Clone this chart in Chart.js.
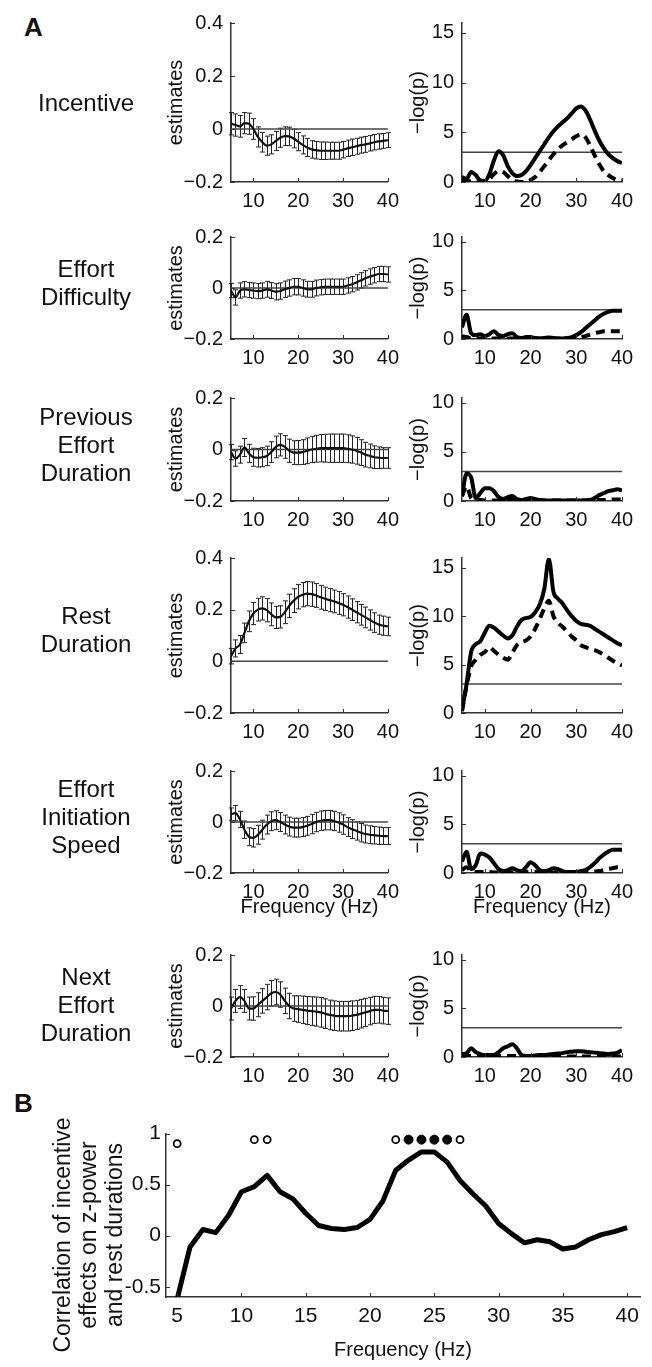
<!DOCTYPE html>
<html>
<head>
<meta charset="utf-8">
<script src="https://cdn.jsdelivr.net/npm/chart.js@4.4.1/dist/chart.umd.min.js"></script>
<style>
  html, body { margin: 0; padding: 0; background: #fff; }
  #fig { position: relative; width: 652px; height: 1367px; overflow: hidden; font-family: "Liberation Sans", Arial, sans-serif; color: #111; }
  #fig canvas { position: absolute; }
  .row-label { position: absolute; left: 0; width: 172px; text-align: center; font-size: 24px; line-height: 28px; }
  .panel-letter { position: absolute; font-weight: bold; font-size: 26px; line-height: 1; }
  #b-title { position: absolute; width: 300px; height: 78px; left: -62px; top: 1196px; transform: rotate(-90deg); text-align: center; font-size: 23px; line-height: 26px; }
</style>
</head>
<body>
<div id="fig">
  <div class="panel-letter" style="left:24px;top:14px">A</div>
  <div class="panel-letter" style="left:14px;top:1090px">B</div>
  <canvas id="est0"></canvas><canvas id="logp0"></canvas>
  <canvas id="est1"></canvas><canvas id="logp1"></canvas>
  <canvas id="est2"></canvas><canvas id="logp2"></canvas>
  <canvas id="est3"></canvas><canvas id="logp3"></canvas>
  <canvas id="est4"></canvas><canvas id="logp4"></canvas>
  <canvas id="est5"></canvas><canvas id="logp5"></canvas>
  <canvas id="corrB"></canvas>
  <div id="b-title">Correlation of incentive<br>effects on z-power<br>and rest durations</div>
</div>
<script>
// --- data (frequency in Hz) ---
const FREQ = [5,6,7,8,9,10,11,12,13,14,15,16,17,18,19,20,21,22,23,24,25,26,27,28,29,30,31,32,33,34,35,36,37,38,39,40];
const ROW_NAMES = [['Incentive'], ['Effort', 'Difficulty'], ['Previous', 'Effort', 'Duration'], ['Rest', 'Duration'], ['Effort', 'Initiation', 'Speed'], ['Next', 'Effort', 'Duration']];

const X_TICKS_A = [10, 20, 30, 40];
const EST_TICKS_TALL = [-0.2, 0, 0.2, 0.4];
const EST_TICKS_SHORT = [-0.2, 0, 0.2];
const LOGP_TICKS_TALL = [0, 5, 10, 15];
const LOGP_TICKS_SHORT = [0, 5, 10];
const P_THRESHOLD = 3;

const incentiveEst = [0.02,0.015,0.01,0.022,0.02,0.0,-0.03,-0.05,-0.063,-0.058,-0.045,-0.033,-0.027,-0.028,-0.036,-0.048,-0.06,-0.07,-0.077,-0.08,-0.082,-0.082,-0.082,-0.082,-0.082,-0.078,-0.073,-0.069,-0.065,-0.061,-0.058,-0.054,-0.05,-0.047,-0.045,-0.042];
const incentiveErr = [0.042,0.042,0.041,0.04,0.04,0.039,0.038,0.037,0.036,0.036,0.036,0.036,0.035,0.035,0.035,0.034,0.034,0.034,0.033,0.033,0.033,0.033,0.032,0.032,0.032,0.031,0.031,0.031,0.03,0.03,0.03,0.029,0.029,0.029,0.028,0.028];
const incentiveP = [0.5,0.3,1.0,0.7,0.15,0.1,0.8,2.2,3.1,2.7,1.6,0.9,0.6,0.7,1.1,1.7,2.4,3.1,3.8,4.5,5.1,5.6,6.0,6.4,6.9,7.4,7.6,7.2,6.3,5.2,4.2,3.4,2.8,2.4,2.1,1.9];
const incentivePDash = [0.2,0.1,0.05,0,0,0,0.3,0.8,1.1,1.0,0.6,0.2,0.05,0,0,0.2,0.5,1.0,1.6,2.2,2.8,3.3,3.7,4.0,4.3,4.6,4.8,4.5,3.7,2.7,1.8,1.1,0.7,0.4,0.2,0.15];

const difficultyEst = [-0.01,-0.037,-0.01,-0.005,-0.008,-0.01,-0.012,-0.01,-0.005,-0.01,-0.015,-0.012,-0.005,0.0,0.005,0.005,0.0,-0.005,-0.005,0.0,0.003,0.005,0.005,0.005,0.005,0.005,0.01,0.015,0.022,0.03,0.038,0.045,0.05,0.055,0.055,0.053];
const difficultyErr = [0.028,0.03,0.03,0.03,0.03,0.03,0.03,0.03,0.031,0.031,0.032,0.032,0.032,0.032,0.032,0.032,0.032,0.031,0.031,0.031,0.03,0.03,0.03,0.03,0.03,0.03,0.03,0.03,0.03,0.03,0.03,0.03,0.03,0.03,0.03,0.03];
const difficultyP = [1.2,2.5,0.6,0.4,0.5,0.3,0.5,0.8,0.4,0.3,0.5,0.6,0.2,0.1,0.2,0.2,0.1,0.05,0.1,0.15,0.1,0.05,0.05,0.1,0.2,0.4,0.7,1.1,1.5,1.9,2.3,2.6,2.8,2.9,2.9,2.9];
const difficultyPDash = [0.3,0.2,0.05,0.05,0.05,0.05,0.05,0.05,0.05,0.05,0.05,0.05,0.05,0.05,0.05,0.05,0.05,0.05,0.05,0.05,0.05,0.05,0.05,0.05,0.05,0.1,0.2,0.3,0.45,0.6,0.7,0.8,0.8,0.8,0.8,0.8];

const prevEffortEst = [-0.01,-0.035,-0.02,0.008,-0.015,-0.03,-0.032,-0.03,-0.025,-0.01,0.01,0.018,0.01,-0.005,-0.012,-0.012,-0.01,-0.005,0.0,0.003,0.005,0.005,0.005,0.005,0.005,0.005,0.003,0.0,-0.005,-0.012,-0.02,-0.025,-0.03,-0.032,-0.033,-0.033];
const prevEffortErr = [0.03,0.03,0.033,0.035,0.035,0.035,0.036,0.037,0.038,0.04,0.042,0.043,0.044,0.045,0.046,0.047,0.048,0.05,0.051,0.052,0.053,0.054,0.055,0.055,0.055,0.055,0.054,0.053,0.052,0.05,0.048,0.046,0.044,0.042,0.04,0.04];
const prevEffortP = [0.5,2.8,2.4,0.3,0.8,1.3,1.3,1.0,0.4,0.2,0.4,0.5,0.2,0.1,0.2,0.3,0.2,0.1,0.05,0.05,0.05,0.05,0.05,0.05,0.05,0.05,0.05,0.05,0.1,0.3,0.6,0.8,1.0,1.1,1.2,1.1];
const prevEffortPDash = [0.5,1.5,0.3,0.1,0.1,0.05,0.05,0.05,0.05,0.05,0.1,0.1,0.05,0.05,0.05,0.05,0.05,0.05,0.05,0.05,0.05,0.05,0.05,0.05,0.05,0.05,0.05,0.05,0.05,0.05,0.1,0.1,0.1,0.15,0.15,0.15];

const restEst = [0.02,0.05,0.065,0.11,0.155,0.185,0.2,0.205,0.198,0.182,0.17,0.172,0.19,0.215,0.235,0.25,0.258,0.262,0.26,0.255,0.248,0.242,0.237,0.232,0.226,0.219,0.21,0.2,0.19,0.18,0.17,0.16,0.15,0.142,0.138,0.135];
const restErr = [0.03,0.033,0.035,0.038,0.04,0.043,0.044,0.045,0.045,0.044,0.043,0.043,0.044,0.045,0.046,0.047,0.047,0.047,0.047,0.046,0.046,0.045,0.045,0.044,0.044,0.043,0.043,0.042,0.041,0.04,0.04,0.039,0.038,0.037,0.037,0.036];
const restP = [0.3,3.0,6.3,7.1,7.4,8.3,9.0,8.8,8.4,8.0,7.7,8.0,8.9,9.6,9.8,9.9,10.4,11.2,12.8,15.9,12.5,11.8,11.3,10.6,10.0,9.5,9.2,9.1,9.0,8.7,8.4,8.1,7.8,7.5,7.2,7.0];
const restPDash = [0.2,2.8,4.8,5.5,6.0,6.3,6.8,6.4,6.0,5.7,5.5,6.2,7.0,7.3,7.5,7.9,8.7,9.7,10.8,11.6,10.0,9.3,8.9,8.4,7.9,7.5,7.0,6.8,6.6,6.5,6.3,6.0,5.7,5.4,5.1,4.9];

const initSpeedEst = [0.03,0.035,0.01,-0.03,-0.058,-0.062,-0.05,-0.03,-0.01,0.003,0.007,0.0,-0.01,-0.018,-0.022,-0.022,-0.02,-0.015,-0.008,0.0,0.005,0.007,0.007,0.004,-0.002,-0.01,-0.02,-0.028,-0.035,-0.042,-0.047,-0.05,-0.052,-0.054,-0.055,-0.055];
const initSpeedErr = [0.025,0.03,0.032,0.034,0.035,0.036,0.037,0.037,0.037,0.037,0.037,0.037,0.037,0.037,0.037,0.037,0.037,0.037,0.038,0.038,0.038,0.038,0.038,0.038,0.038,0.038,0.037,0.037,0.036,0.036,0.035,0.035,0.034,0.034,0.033,0.033];
const initSpeedP = [1.2,2.2,0.4,0.8,2.0,1.9,1.6,1.0,0.4,0.2,0.3,0.5,0.3,0.2,0.6,1.1,0.8,0.3,0.2,0.3,0.5,0.4,0.2,0.1,0.1,0.1,0.2,0.3,0.6,1.0,1.5,1.9,2.2,2.4,2.4,2.4];
const initSpeedPDash = [0.3,0.6,0.2,0.1,0.1,0.1,0.1,0.05,0.05,0.05,0.05,0.05,0.05,0.05,0.1,0.15,0.1,0.05,0.05,0.05,0.05,0.05,0.05,0.05,0.05,0.05,0.05,0.05,0.1,0.15,0.2,0.3,0.4,0.5,0.6,0.6];

const nextEffortEst = [-0.01,0.02,0.035,0.02,-0.01,-0.01,0.005,0.02,0.035,0.05,0.055,0.045,0.02,0.0,-0.01,-0.012,-0.015,-0.018,-0.02,-0.022,-0.025,-0.03,-0.035,-0.038,-0.04,-0.04,-0.04,-0.038,-0.035,-0.03,-0.025,-0.02,-0.015,-0.015,-0.018,-0.02];
const nextEffortErr = [0.045,0.045,0.045,0.045,0.045,0.046,0.047,0.048,0.05,0.05,0.05,0.05,0.05,0.05,0.05,0.052,0.054,0.055,0.056,0.057,0.058,0.058,0.058,0.058,0.058,0.058,0.058,0.058,0.057,0.056,0.055,0.054,0.053,0.052,0.052,0.052];
const nextEffortP = [0.3,0.4,0.9,0.5,0.3,0.2,0.2,0.2,0.5,0.9,1.1,1.3,0.9,0.2,0.1,0.1,0.15,0.2,0.2,0.25,0.3,0.35,0.4,0.5,0.55,0.6,0.6,0.55,0.5,0.45,0.4,0.35,0.3,0.35,0.45,0.7];
const nextEffortPDash = [0.15,0.1,0.1,0.1,0.1,0.1,0.1,0.1,0.1,0.1,0.1,0.1,0.1,0.05,0.05,0.05,0.05,0.05,0.05,0.05,0.05,0.05,0.05,0.05,0.05,0.05,0.05,0.05,0.05,0.05,0.05,0.05,0.05,0.05,0.05,0.1];

// panel B
const CORR_TICKS_X = [5, 10, 15, 20, 25, 30, 35, 40];
const CORR_TICKS_Y = [-0.5, 0, 0.5, 1];
const corrB = [-0.62,-0.11,0.06,0.03,0.2,0.43,0.48,0.59,0.43,0.36,0.22,0.1,0.07,0.06,0.08,0.16,0.34,0.64,0.74,0.82,0.82,0.72,0.54,0.41,0.29,0.12,0.02,-0.07,-0.04,-0.06,-0.13,-0.11,-0.04,0.01,0.04,0.08];
const sigOpenFreq = [5, 11, 12, 22, 27];
const sigOpenLevel = [0.9, 0.94, 0.94, 0.94, 0.94];
const sigFilledFreq = [23, 24, 25, 26];
const sigFilledLevel = [0.94, 0.94, 0.94, 0.94];

const ROWS = [
  { est: incentiveEst, err: incentiveErr, p: incentiveP, pDash: incentivePDash, tall: true },
  { est: difficultyEst, err: difficultyErr, p: difficultyP, pDash: difficultyPDash, tall: false },
  { est: prevEffortEst, err: prevEffortErr, p: prevEffortP, pDash: prevEffortPDash, tall: false },
  { est: restEst, err: restErr, p: restP, pDash: restPDash, tall: true },
  { est: initSpeedEst, err: initSpeedErr, p: initSpeedP, pDash: initSpeedPDash, tall: false, freqTitle: true },
  { est: nextEffortEst, err: nextEffortErr, p: nextEffortP, pDash: nextEffortPDash, tall: false },
];

// --- layout ---
const FONT = '"Liberation Sans", Arial, sans-serif';
const LEFT_X = { l: 231, r: 392 };
const RIGHT_X = { l: 462, r: 622 };
const ROW_Y = [{ t: 19, b: 182 }, { t: 233, b: 339 }, { t: 394, b: 501 }, { t: 554, b: 713 }, { t: 767, b: 873 }, { t: 951, b: 1057 }];
const ROW_LABEL_Y = [103, 283, 445, 630, 817, 1005];

const pts = (xs, ys) => xs.map((x, i) => ({ x, y: ys[i] }));
const minusLabel = (v) => (v < 0 ? '\u2212' + Math.abs(v) : String(v));

const errorBarPlugin = {
  id: 'errorBars',
  beforeDatasetsDraw(chart) {
    const { ctx, scales: { x, y } } = chart;
    chart.data.datasets.forEach((ds) => {
      if (!ds.err) return;
      ctx.save();
      ctx.strokeStyle = '#222';
      ctx.lineWidth = 1;
      ds.data.forEach((pt, i) => {
        const px = Math.round(x.getPixelForValue(pt.x)) + 0.5;
        const yHi = y.getPixelForValue(pt.y + ds.err[i]);
        const yLo = y.getPixelForValue(pt.y - ds.err[i]);
        ctx.beginPath();
        ctx.moveTo(px, yHi); ctx.lineTo(px, yLo);
        ctx.moveTo(px - 2.5, yHi); ctx.lineTo(px + 2.5, yHi);
        ctx.moveTo(px - 2.5, yLo); ctx.lineTo(px + 2.5, yLo);
        ctx.stroke();
      });
      ctx.restore();
    });
  },
};

// small inward tick marks, as in the matlab axes
const innerTicksPlugin = {
  id: 'innerTicks',
  afterDraw(chart) {
    const { ctx, chartArea: a, scales: { x, y } } = chart;
    ctx.save();
    ctx.strokeStyle = '#333';
    ctx.lineWidth = 1;
    ctx.beginPath();
    x.ticks.forEach((t) => {
      const px = Math.round(x.getPixelForValue(t.value)) + 0.5;
      ctx.moveTo(px, a.bottom); ctx.lineTo(px, a.bottom - 4);
    });
    y.ticks.forEach((t) => {
      const py = Math.round(y.getPixelForValue(t.value)) + 0.5;
      ctx.moveTo(a.left, py); ctx.lineTo(a.left + 4, py);
    });
    ctx.stroke();
    ctx.restore();
  },
};

function renderPanel(canvasId, s) {
  const el = document.getElementById(canvasId);
  const w = s.plot.r - s.plot.l + s.axisW + s.padRight;
  const h = s.plot.b - s.plot.t + s.padTop + s.axisH;
  el.width = w; el.height = h;
  el.style.width = w + 'px'; el.style.height = h + 'px';
  el.style.left = (s.plot.l - s.axisW) + 'px';
  el.style.top = (s.plot.t - s.padTop) + 'px';
  const tickFont = { family: FONT, size: s.tickSize || 20, lineHeight: 1 };
  return new Chart(el, {
    type: 'line',
    data: { datasets: s.datasets },
    options: {
      responsive: false,
      animation: false,
      devicePixelRatio: 1,
      layout: { padding: { top: s.padTop, right: s.padRight, left: 0, bottom: 0 } },
      plugins: { legend: { display: false }, tooltip: { enabled: false } },
      scales: {
        x: {
          type: 'linear', min: s.xMin, max: s.xMax,
          afterBuildTicks: (sc) => { sc.ticks = s.xTicks.map((v) => ({ value: v })); },
          afterFit: (sc) => { sc.height = s.axisH; },
          grid: { display: false, drawTicks: false },
          border: { display: true, color: '#333', width: 1.5 },
          ticks: { font: tickFont, color: '#111', padding: 9, maxRotation: 0, autoSkip: false, callback: (v) => String(v) },
          title: s.xTitle
            ? { display: true, text: s.xTitle, font: { family: FONT, size: 20, lineHeight: 1 }, color: '#111', padding: { top: 0, bottom: s.xTitlePad || 0 } }
            : { display: false },
        },
        y: {
          type: 'linear', min: s.yMin, max: s.yMax,
          afterBuildTicks: (sc) => { sc.ticks = s.yTicks.map((v) => ({ value: v })); },
          afterFit: (sc) => { sc.width = s.axisW; },
          grid: { display: false, drawTicks: false },
          border: { display: true, color: '#333', width: 1.5 },
          ticks: { font: tickFont, color: '#111', padding: s.yTickPad || 8, autoSkip: false, callback: s.yLabel },
          title: s.yTitle
            ? { display: true, text: s.yTitle, font: { family: FONT, size: 20, lineHeight: 1 }, color: '#111', padding: { top: 10, bottom: 0 } }
            : { display: false },
        },
      },
    },
    plugins: [errorBarPlugin, innerTicksPlugin],
  });
}

const edge = [FREQ[0], FREQ[FREQ.length - 1]];

ROWS.forEach((row, i) => {
  // row label
  const lab = document.createElement('div');
  lab.className = 'row-label';
  lab.innerHTML = ROW_NAMES[i].join('<br>');
  lab.style.top = (ROW_LABEL_Y[i] - ROW_NAMES[i].length * 14) + 'px';
  document.getElementById('fig').appendChild(lab);

  const axisH = row.freqTitle ? 46 : 34;
  const xTitle = row.freqTitle ? 'Frequency (Hz)' : null;

  renderPanel('est' + i, {
    plot: { l: LEFT_X.l, r: LEFT_X.r, t: ROW_Y[i].t, b: ROW_Y[i].b },
    axisW: 75, padTop: 14, padRight: 16, axisH,
    xMin: 5, xMax: 40, xTicks: X_TICKS_A,
    yMin: -0.2, yMax: row.tall ? 0.4 : 0.2, yTicks: row.tall ? EST_TICKS_TALL : EST_TICKS_SHORT,
    yLabel: minusLabel, yTitle: 'estimates', xTitle, xTitlePad: 2,
    datasets: [
      { data: pts(FREQ, row.est), err: row.err, borderColor: '#111', borderWidth: 2.2, pointRadius: 0, cubicInterpolationMode: 'monotone', fill: false },
      { data: pts(edge, [0, 0]), borderColor: '#444', borderWidth: 1.5, pointRadius: 0, fill: false },
    ],
  });

  renderPanel('logp' + i, {
    plot: { l: RIGHT_X.l, r: RIGHT_X.r, t: ROW_Y[i].t, b: ROW_Y[i].b },
    axisW: 64, padTop: 14, padRight: 24, axisH,
    xMin: 5, xMax: 40, xTicks: X_TICKS_A,
    yMin: 0, yMax: row.tall ? 16 : 10.5, yTicks: row.tall ? LOGP_TICKS_TALL : LOGP_TICKS_SHORT,
    yLabel: (v) => String(v), yTitle: '\u2212log(p)', xTitle, xTitlePad: 2,
    datasets: [
      { data: pts(FREQ, row.p), borderColor: '#000', borderWidth: 4, pointRadius: 0, cubicInterpolationMode: 'monotone', fill: false },
      { data: pts(FREQ, row.pDash), borderColor: '#000', borderWidth: 4, borderDash: [9, 6], pointRadius: 0, cubicInterpolationMode: 'monotone', fill: false },
      { data: pts(edge, [P_THRESHOLD, P_THRESHOLD]), borderColor: '#444', borderWidth: 1.5, pointRadius: 0, fill: false },
    ],
  });
});

renderPanel('corrB', {
  plot: { l: 166, r: 640, t: 1132, b: 1297 },
  axisW: 136, padTop: 14, padRight: 10, axisH: 66,
  xMin: 4.13, xMax: 41, xTicks: CORR_TICKS_X,
  yMin: -0.6, yMax: 1, yTicks: CORR_TICKS_Y, yTickPad: 5, tickSize: 21,
  yLabel: (v) => String(v), yTitle: null, xTitle: 'Frequency (Hz)', xTitlePad: 3,
  datasets: [
    { data: pts(sigFilledFreq, sigFilledLevel), showLine: false, pointStyle: 'circle', pointRadius: 4.5, pointBorderWidth: 1, pointBackgroundColor: '#000', pointBorderColor: '#000' },
    { data: pts(sigOpenFreq, sigOpenLevel), showLine: false, pointStyle: 'circle', pointRadius: 3.5, pointBorderWidth: 1.8, pointBackgroundColor: '#fff', pointBorderColor: '#000' },
    { data: pts(FREQ, corrB), borderColor: '#000', borderWidth: 5, pointRadius: 0, tension: 0, fill: false, borderJoinStyle: 'round' },
  ],
});
</script>
</body>
</html>
